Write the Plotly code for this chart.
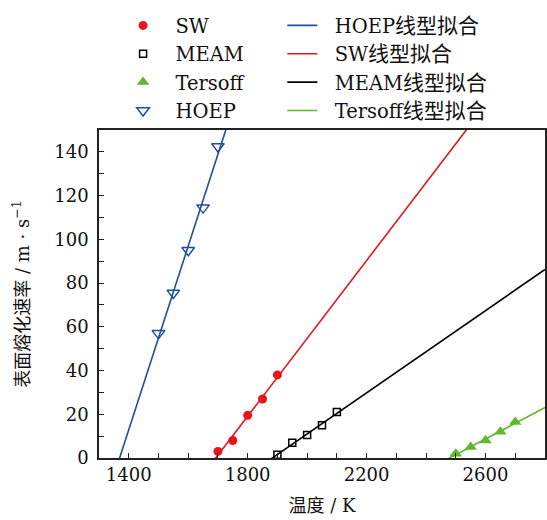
import numpy as np
import plotly.graph_objects as go

# Data
sw_T = [1700, 1750, 1800, 1850, 1900]
sw_v = [3, 8, 19.5, 27, 38]
meam_T = [1900, 1950, 2000, 2050, 2100]
meam_v = [1.5, 7, 10.5, 15, 21]
tersoff_T = [2500, 2550, 2600, 2650, 2700]
tersoff_v = [2, 5, 8, 12, 16.5]
hoep_T = [1500, 1550, 1600, 1650, 1700]
hoep_v = [57, 75.5, 95, 114.5, 142.5]

x_ticks = [1400, 1800, 2200, 2600]
y_ticks = [0, 20, 40, 60, 80, 100, 120, 140]

RED = "#e8151b"
BLUE = "#1f4fa3"
BLACK = "#000000"
GREEN = "#5fb82d"
FONT = "DejaVu Serif, Noto Sans CJK SC, serif"
CJK = "<span style='font-size:21px'>线型拟合</span>"

fig = go.Figure()

sym_series = [
    ("SW", sw_T, sw_v, dict(symbol="circle", size=9, color=RED)),
    ("MEAM", meam_T, meam_v, dict(symbol="square-open", size=7, color=BLACK, line=dict(width=1.5))),
    ("Tersoff", tersoff_T, tersoff_v, dict(symbol="triangle-up", size=11, color=GREEN)),
    ("HOEP", hoep_T, hoep_v, dict(symbol="triangle-down-open", size=11, color=BLUE, line=dict(width=1.5))),
]
fit_series = [
    ("HOEP", hoep_T, hoep_v, BLUE),
    ("SW", sw_T, sw_v, RED),
    ("MEAM", meam_T, meam_v, BLACK),
    ("Tersoff", tersoff_T, tersoff_v, GREEN),
]

xl = np.array([1300.0, 2800.0])
for name, xs, ys, col in fit_series:
    k, b = np.polyfit(xs, ys, 1)
    fig.add_trace(go.Scatter(x=xl, y=k * xl + b, mode="lines", name="  " + name + CJK,
                             line=dict(color=col, width=1.6), legend="legend2"))

for name, xs, ys, mk in sym_series:
    fig.add_trace(go.Scatter(x=xs, y=ys, mode="markers", name="  " + name, marker=mk,
                             legend="legend", cliponaxis=False))

axis_common = dict(
    showline=True, linecolor="#222", linewidth=1.5, mirror=True,
    ticks="inside", ticklen=5, tickwidth=1, tickcolor="#222",
    showgrid=False, zeroline=False,
    tickfont=dict(family=FONT, size=18, color="#111"),
)
fig.update_xaxes(range=[1300, 2800], tickvals=x_ticks,
                 minor=dict(dtick=100, tick0=1300, ticks="inside", ticklen=5, tickcolor="#222"),
                 title=dict(text="<span style='font-size:18px'>温度</span> / K",
                            font=dict(family=FONT, size=18, color="#111"), standoff=15),
                 **axis_common)
fig.update_yaxes(range=[0, 150], tickvals=y_ticks, ticklabelstandoff=5,
                 minor=dict(dtick=10, tick0=0, ticks="inside", ticklen=5, tickcolor="#222"),
                 title=dict(text="<span style='font-size:18px'>表面熔化速率</span> / m · s<sup>−1</sup>",
                            font=dict(family=FONT, size=18, color="#111"), standoff=20),
                 **axis_common)

fig.update_layout(
    width=547, height=520,
    margin=dict(l=99, r=2, t=130, b=62, autoexpand=False),
    paper_bgcolor="white", plot_bgcolor="white",
    font=dict(family=FONT, size=18, color="#111"),
    showlegend=True,
    legend=dict(x=0.054, y=0.988, xref="paper", yref="container", xanchor="left", yanchor="top",
                bgcolor="rgba(0,0,0,0)", tracegroupgap=0, itemsizing="trace",
                font=dict(family=FONT, size=19.5, color="#111")),
    legend2=dict(x=0.411, y=0.988, xref="paper", yref="container", xanchor="left", yanchor="top",
                 bgcolor="rgba(0,0,0,0)", tracegroupgap=0,
                 font=dict(family=FONT, size=19.5, color="#111")),
)

fig.write_html("out.html")
